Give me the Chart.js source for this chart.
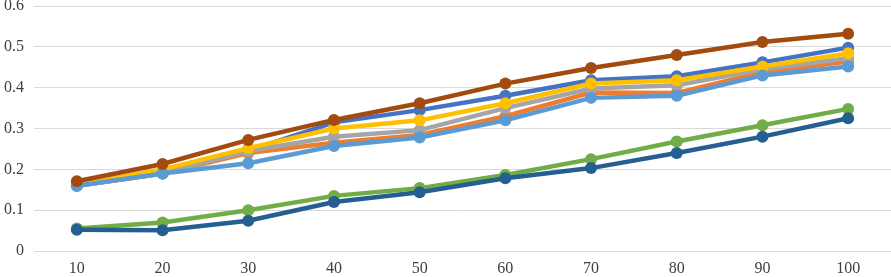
<!DOCTYPE html>
<html lang="en">
<head>
    <title>series chart</title>
    <meta charset="utf-8">
    <script src="https://cdn.jsdelivr.net/npm/chart.js@4.4.1/dist/chart.umd.min.js"></script>
</head>
<style>
  body {
    margin: 0;
    background-color: #ffffff;
  }

  .chart-box {
    width: 891px;
    height: 277px;
  }
</style>
<body>

  <div class="chart-box">
    <canvas id="myChart" width="891" height="277"></canvas>
  </div>

  <script>
    // categories
    const xValues = ["10", "20", "30", "40", "50", "60", "70", "80", "90", "100"];

    // series values
    const s1 = [0.160, 0.190, 0.245, 0.315, 0.345, 0.380, 0.418, 0.428, 0.462, 0.498]; // blue
    const s2 = [0.160, 0.190, 0.240, 0.265, 0.284, 0.330, 0.388, 0.387, 0.438, 0.464]; // orange
    const s3 = [0.160, 0.190, 0.245, 0.280, 0.296, 0.350, 0.398, 0.406, 0.445, 0.472]; // gray
    const s4 = [0.162, 0.200, 0.252, 0.300, 0.320, 0.362, 0.410, 0.418, 0.452, 0.484]; // yellow
    const s5 = [0.160, 0.190, 0.215, 0.257, 0.278, 0.320, 0.375, 0.380, 0.430, 0.452]; // light blue
    const s6 = [0.055, 0.070, 0.100, 0.135, 0.154, 0.186, 0.225, 0.268, 0.308, 0.348]; // green
    const s7 = [0.052, 0.051, 0.074, 0.120, 0.144, 0.178, 0.203, 0.240, 0.280, 0.325]; // dark blue
    const s8 = [0.171, 0.213, 0.272, 0.321, 0.362, 0.410, 0.448, 0.480, 0.512, 0.532]; // brown

    const yTicks = ["0", "0.1", "0.2", "0.3", "0.4", "0.5", "0.6"];

    const seriesList = [s1, s2, s3, s4, s5, s6, s7, s8];
    const lineColors = [
      "#4472C4",
      "#ED7D31",
      "#A5A5A5",
      "#FFC000",
      "#5B9BD5",
      "#70AD47",
      "#255E91",
      "#A34B0E"
    ];

    const datasets = seriesList.map(function (vals, i) {
      return {
        label: "S" + (i + 1),
        data: vals,
        borderColor: lineColors[i],
        backgroundColor: lineColors[i],
        borderWidth: 4.5,
        pointRadius: 6,
        pointHoverRadius: 6,
        pointBorderWidth: 0,
        tension: 0,
        clip: false,
        order: seriesList.length - i // later series on top
      };
    });

    // drop the extra room chart.js keeps for half-labels at the ends
    function noEdgePad(scale) {
      scale.paddingTop = 0;
      scale.paddingBottom = 0;
      scale.paddingLeft = 0;
      scale.paddingRight = 0;
    }

    new Chart("myChart", {
      type: "line",
      data: {
        labels: xValues,
        datasets: datasets
      },
      options: {
        responsive: false,
        animation: false,
        layout: { autoPadding: false, padding: { top: 6, left: 0, right: 0, bottom: 0 } },
        plugins: {
          legend: { display: false },
          tooltip: { enabled: false }
        },
        scales: {
          x: {
            offset: true,
            grid: { display: false, drawTicks: false },
            border: { display: false },
            ticks: {
              color: "#404040",
              padding: 8,
              maxRotation: 0,
              autoSkip: false,
              font: { family: "'Liberation Serif', 'Times New Roman', serif", size: 16 }
            },
            afterFit: function (scale) { scale.height = 26; noEdgePad(scale); }
          },
          y: {
            min: 0,
            max: 0.6,
            grid: { color: "#d9d9d9", lineWidth: 1, drawTicks: false },
            border: { display: false },
            ticks: {
              stepSize: 0.1,
              color: "#404040",
              padding: 10,
              font: { family: "'Liberation Serif', 'Times New Roman', serif", size: 16 },
              callback: function (v, idx) { return yTicks[idx]; }
            },
            afterFit: function (scale) { scale.width = 34; noEdgePad(scale); }
          }
        }
      }
    });
  </script>

</body>
</html>
